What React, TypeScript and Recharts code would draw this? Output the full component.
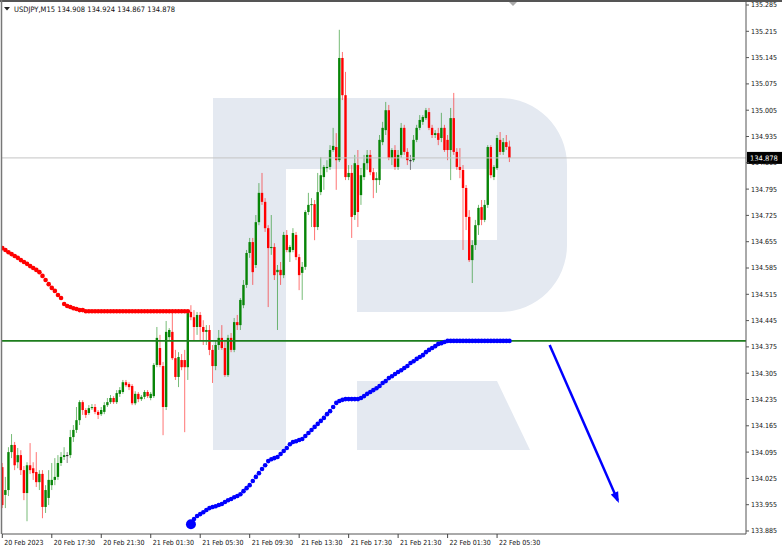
// USDJPY M15 candle chart with red/blue dotted indicators, a support level and a forecast arrow
import { ComposedChart, Bar, Line, XAxis, YAxis, ReferenceLine } from "recharts";

const symbol = "USDJPY,M15";

// OHLC per 15-minute bar, 20 Feb 13:30 -> 22 Feb 06:30
const opens = [
  134.055, 133.981, 133.994, 134.095, 134.114, 134.068, 134.087, 134.047, 133.986, 134.06,
  134.052, 134.042, 134.015, 134.037, 133.949, 133.973, 134.007, 134.021, 134.029, 134.066,
  134.082, 134.087, 134.087, 134.135, 134.154, 134.18, 134.228, 134.207, 134.199, 134.212,
  134.215, 134.202, 134.196, 134.202, 134.22, 134.228, 134.239, 134.228, 134.25, 134.255,
  134.281, 134.276, 134.271, 134.225, 134.25, 134.236, 134.242, 134.255, 134.239, 134.244,
  134.327, 134.372, 134.324, 134.215, 134.401, 134.415, 134.345, 134.295, 134.34, 134.34,
  134.321, 134.468, 134.454, 134.428, 134.46, 134.428, 134.415, 134.42, 134.367, 134.324,
  134.38, 134.399, 134.372, 134.3, 134.399, 134.367, 134.441, 134.433, 134.486, 134.54,
  134.625, 134.654, 134.593, 134.707, 134.785, 134.761, 134.691, 134.638, 134.641, 134.574,
  134.58, 134.566, 134.673, 134.627, 134.633, 134.673, 134.614, 134.572, 134.588, 134.734,
  134.753, 134.755, 134.694, 134.787, 134.827, 134.851, 134.854, 134.899, 134.907, 134.872,
  135.144, 135.045, 134.827, 134.838, 134.726, 134.859, 134.779, 134.827, 134.864, 134.886,
  134.84, 134.819, 134.819, 134.92, 134.952, 135.005, 134.878, 134.899, 134.854, 134.886,
  134.958, 134.894, 134.872, 134.872, 134.926, 134.958, 134.974, 134.984, 135.0, 134.958,
  134.939, 134.944, 134.931, 134.958, 134.926, 134.899, 134.984, 134.894, 134.854, 134.846,
  134.798, 134.721, 134.606, 134.646, 134.699, 134.747, 134.713, 134.753, 134.907, 134.827,
  134.851, 134.926, 134.894, 134.92, 134.908,
];
const highs = [
  134.066, 134.029, 134.108, 134.143, 134.122, 134.106, 134.1, 134.058, 134.068, 134.119,
  134.068, 134.095, 134.047, 134.047, 134.007, 134.047, 134.066, 134.079, 134.087, 134.095,
  134.108, 134.095, 134.154, 134.167, 134.215, 134.233, 134.233, 134.212, 134.22, 134.223,
  134.223, 134.207, 134.215, 134.228, 134.239, 134.247, 134.244, 134.26, 134.268, 134.287,
  134.287, 134.281, 134.276, 134.257, 134.255, 134.247, 134.26, 134.26, 134.255, 134.332,
  134.428, 134.407, 134.335, 134.444, 134.425, 134.465, 134.367, 134.361, 134.356, 134.367,
  134.473, 134.486, 134.473, 134.468, 134.468, 134.446, 134.433, 134.433, 134.38, 134.393,
  134.42, 134.433, 134.393, 134.407, 134.412, 134.452, 134.46, 134.505, 134.553, 134.633,
  134.665, 134.665, 134.726, 134.811, 134.838, 134.771, 134.699, 134.726, 134.651, 134.593,
  134.601, 134.681, 134.686, 134.646, 134.691, 134.681, 134.622, 134.601, 134.739, 134.785,
  134.771, 134.766, 134.838, 134.88, 134.859, 134.872, 134.912, 134.958, 134.944, 135.219,
  135.16, 135.107, 134.859, 134.859, 134.886, 134.899, 134.851, 134.886, 134.899, 134.899,
  134.851, 134.84, 134.939, 134.974, 135.027, 135.019, 134.904, 134.912, 134.899, 134.971,
  134.966, 134.904, 134.886, 134.939, 134.966, 134.992, 134.992, 135.011, 135.011, 134.966,
  134.952, 134.958, 134.998, 134.966, 134.939, 135.011, 135.051, 134.904, 134.904, 134.859,
  134.806, 134.739, 134.659, 134.713, 134.753, 134.766, 134.766, 134.912, 134.912, 134.859,
  134.939, 134.947, 134.931, 134.939, 134.924,
];
const lows = [
  133.946, 133.946, 133.978, 134.079, 134.047, 134.052, 134.034, 133.967, 133.911, 134.037,
  134.021, 134.002, 133.994, 133.919, 133.933, 133.954, 133.994, 134.007, 134.021, 134.058,
  134.074, 134.066, 134.079, 134.122, 134.146, 134.167, 134.194, 134.186, 134.194, 134.207,
  134.196, 134.183, 134.191, 134.196, 134.215, 134.223, 134.223, 134.223, 134.242, 134.25,
  134.268, 134.26, 134.22, 134.22, 134.228, 134.231, 134.236, 134.239, 134.233, 134.239,
  134.321, 134.321, 134.14, 134.207, 134.393, 134.34, 134.287, 134.268, 134.313, 134.148,
  134.287, 134.446, 134.393, 134.407, 134.393, 134.38, 134.38, 134.353, 134.279, 134.313,
  134.367, 134.367, 134.295, 134.295, 134.361, 134.361, 134.42, 134.42, 134.478, 134.532,
  134.612, 134.54, 134.585, 134.699, 134.753, 134.681, 134.481, 134.62, 134.553, 134.42,
  134.54, 134.558, 134.627, 134.601, 134.627, 134.606, 134.526, 134.5, 134.58, 134.726,
  134.694, 134.659, 134.686, 134.779, 134.793, 134.84, 134.846, 134.894, 134.793, 134.867,
  135.032, 134.819, 134.819, 134.665, 134.713, 134.694, 134.753, 134.819, 134.846, 134.832,
  134.771, 134.785, 134.806, 134.912, 134.939, 134.872, 134.859, 134.846, 134.846, 134.878,
  134.886, 134.859, 134.846, 134.867, 134.92, 134.952, 134.966, 134.979, 134.952, 134.931,
  134.931, 134.912, 134.92, 134.894, 134.872, 134.819, 134.886, 134.846, 134.824, 134.633,
  134.686, 134.601, 134.545, 134.633, 134.673, 134.699, 134.707, 134.745, 134.824, 134.819,
  134.846, 134.886, 134.886, 134.899, 134.867,
];
const closes = [
  133.954, 133.994, 134.095, 134.114, 134.06, 134.087, 134.047, 133.986, 134.06, 134.047,
  134.039, 134.015, 134.037, 133.949, 133.994, 134.021, 134.021, 134.029, 134.066, 134.082,
  134.087, 134.087, 134.135, 134.154, 134.18, 134.228, 134.207, 134.194, 134.212, 134.215,
  134.202, 134.194, 134.207, 134.22, 134.228, 134.239, 134.228, 134.252, 134.26, 134.281,
  134.273, 134.268, 134.225, 134.25, 134.236, 134.242, 134.255, 134.244, 134.25, 134.327,
  134.399, 134.327, 134.215, 134.415, 134.42, 134.345, 134.295, 134.348, 134.321, 134.321,
  134.468, 134.454, 134.428, 134.46, 134.428, 134.415, 134.42, 134.367, 134.324, 134.38,
  134.399, 134.372, 134.3, 134.399, 134.367, 134.441, 134.433, 134.5, 134.54, 134.625,
  134.654, 134.574, 134.707, 134.785, 134.761, 134.691, 134.638, 134.641, 134.566, 134.58,
  134.566, 134.673, 134.633, 134.641, 134.678, 134.614, 134.566, 134.588, 134.734, 134.753,
  134.755, 134.694, 134.787, 134.832, 134.854, 134.854, 134.899, 134.91, 134.872, 135.144,
  135.045, 134.827, 134.838, 134.721, 134.864, 134.734, 134.832, 134.864, 134.886, 134.84,
  134.819, 134.824, 134.926, 134.958, 135.005, 134.878, 134.899, 134.854, 134.886, 134.958,
  134.894, 134.872, 134.872, 134.926, 134.958, 134.979, 134.987, 135.005, 134.958, 134.939,
  134.944, 134.926, 134.958, 134.899, 134.899, 134.984, 134.894, 134.854, 134.846, 134.798,
  134.721, 134.606, 134.646, 134.699, 134.745, 134.713, 134.753, 134.907, 134.832, 134.854,
  134.931, 134.894, 134.92, 134.907, 134.878,
];

// red dotted indicator (bars 0..60)
const redDots = [
  134.638, 134.633, 134.627, 134.622, 134.617, 134.612, 134.606, 134.601, 134.596, 134.59,
  134.585, 134.58, 134.574, 134.564, 134.553, 134.542, 134.532, 134.524, 134.513, 134.505,
  134.489, 134.484, 134.481, 134.478, 134.476, 134.473, 134.473, 134.47, 134.47, 134.47,
  134.47, 134.47, 134.47, 134.47, 134.47, 134.47, 134.47, 134.47, 134.47, 134.47,
  134.47, 134.47, 134.47, 134.47, 134.47, 134.47, 134.47, 134.47, 134.47, 134.47,
  134.47, 134.47, 134.47, 134.47, 134.47, 134.47, 134.47, 134.47, 134.47, 134.47,
  134.47,
];

// blue dotted indicator (bars 61..164)
const BLUE_START = 61;
const blueDots = [
  133.903, 133.917, 133.925, 133.93, 133.935, 133.941, 133.946, 133.949, 133.951, 133.954,
  133.957, 133.962, 133.967, 133.97, 133.975, 133.978, 133.983, 133.991, 133.999, 134.007,
  134.018, 134.029, 134.039, 134.05, 134.06, 134.071, 134.076, 134.079, 134.082, 134.09,
  134.098, 134.106, 134.116, 134.122, 134.124, 134.127, 134.13, 134.138, 134.146, 134.154,
  134.162, 134.17, 134.178, 134.186, 134.196, 134.204, 134.215, 134.226, 134.231, 134.234,
  134.236, 134.236, 134.236, 134.236, 134.236, 134.239, 134.244, 134.25, 134.255, 134.26,
  134.265, 134.271, 134.279, 134.284, 134.292, 134.297, 134.303, 134.308, 134.313, 134.319,
  134.324, 134.332, 134.337, 134.343, 134.348, 134.353, 134.361, 134.367, 134.372, 134.377,
  134.383, 134.385, 134.388, 134.391, 134.391, 134.391, 134.391, 134.391, 134.391, 134.391,
  134.391, 134.391, 134.391, 134.391, 134.391, 134.391, 134.391, 134.391, 134.391, 134.391,
  134.391, 134.391, 134.391, 134.391,
];

const supportLevel = 134.391;
const lastPrice = 134.878;

// forecast arrow (bar index, price)
const arrowBars = [177, 199];
const arrowPrices = [134.38, 133.967];

const tickBars = [0, 16, 32, 48, 64, 80, 96, 112, 128, 144, 160];
const tickLabels = [
  "20 Feb 2023", "20 Feb 17:30", "20 Feb 21:30", "21 Feb 01:30", "21 Feb 05:30",
  "21 Feb 09:30", "21 Feb 13:30", "21 Feb 17:30", "21 Feb 21:30", "22 Feb 01:30", "22 Feb 05:30",
];
const priceTicks = [
  133.885, 133.955, 134.025, 134.095, 134.165, 134.235, 134.305, 134.375, 134.445, 134.515,
  134.585, 134.655, 134.725, 134.795, 134.865, 134.935, 135.005, 135.075, 135.145, 135.215, 135.285,
];

const FONT = "'DejaVu Sans Condensed', 'DejaVu Sans', sans-serif";
const UP = "#078507";
const DOWN = "#ff0000";

const candles = opens.map((o, i) => ({
  i,
  o,
  h: highs[i],
  l: lows[i],
  c: closes[i],
  range: [lows[i], highs[i]],
  red: i < redDots.length ? redDots[i] : null,
  blue: i >= BLUE_START ? blueDots[i - BLUE_START] : null,
}));
const chartData = [
  ...candles,
  ...arrowBars.map((b, k) => ({ i: b, arrow: arrowPrices[k] })),
];

const Candle = (props: any) => {
  const { x, y, width, height, payload } = props;
  if (!payload || payload.o == null) return <g />;
  const { o, h, l, c } = payload;
  const top = Math.min(y, y + height);
  const span = Math.abs(height);
  const k = span / (h - l || 1);
  const cx = x + width / 2;
  const yo = top + (h - o) * k;
  const yc = top + (h - c) * k;
  const color = c > o ? UP : c < o ? DOWN : "#222";
  return (
    <g>
      <line x1={cx} x2={cx} y1={top} y2={top + span} stroke={color} strokeOpacity={0.55} strokeWidth={1} />
      <rect x={cx - 1.2} width={2.4} y={Math.min(yo, yc)} height={Math.max(Math.abs(yo - yc), 1)} fill={color} />
    </g>
  );
};

const redDot = (p: any) => {
  if (p.cy == null || isNaN(p.cy)) return <g key={`r${p.index}`} />;
  return <circle key={`r${p.index}`} cx={p.cx} cy={p.cy} r={2.3} fill={DOWN} />;
};

const blueDot = (p: any) => {
  if (p.cy == null || isNaN(p.cy)) return <g key={`b${p.index}`} />;
  const first = p.payload && p.payload.i === BLUE_START;
  return <circle key={`b${p.index}`} cx={p.cx} cy={p.cy} r={first ? 5 : 2.3} fill="#0000ff" />;
};

// arrowhead on the last point, pointing away from the previous point
let prevArrowPt: { x: number; y: number } | null = null;
const arrowDot = (p: any) => {
  if (p.cy == null || isNaN(p.cy)) return <g key={`a${p.index}`} />;
  const isFirst = p.payload && p.payload.i === arrowBars[0];
  if (isFirst || !prevArrowPt) {
    prevArrowPt = { x: p.cx, y: p.cy };
    return <g key={`a${p.index}`} />;
  }
  const dx = p.cx - prevArrowPt.x;
  const dy = p.cy - prevArrowPt.y;
  const len = Math.hypot(dx, dy) || 1;
  const ux = dx / len;
  const uy = dy / len;
  const tipX = p.cx + ux * 3;
  const tipY = p.cy + uy * 3;
  const bx = p.cx - ux * 8;
  const by = p.cy - uy * 8;
  const pts = `${tipX},${tipY} ${bx - uy * 4},${by + ux * 4} ${bx + uy * 4},${by - ux * 4}`;
  return <polygon key={`a${p.index}`} points={pts} fill="#0000ff" />;
};

const DateTick = (props: any) => {
  const { x, y, payload } = props;
  const idx = tickBars.indexOf(payload.value);
  return (
    <text x={x + 2} y={y + 5} fontSize={7} fontFamily={FONT} fill="#111" textAnchor="start">
      {idx >= 0 ? tickLabels[idx] : ""}
    </text>
  );
};

const PriceBox = (props: any) => {
  const vb = props.viewBox;
  if (!vb) return null;
  const x = vb.x + vb.width;
  return (
    <g>
      <rect x={x + 1} y={vb.y - 6} width={35} height={12} fill="#000" />
      <text x={x + 4} y={vb.y + 3} fontSize={7.5} fontFamily={FONT} fill="#fff">
        {lastPrice.toFixed(3)}
      </text>
    </g>
  );
};

const last = opens.length - 1;
const title = `${symbol}  ${opens[last].toFixed(3)} ${highs[last].toFixed(3)} ${lows[last].toFixed(3)} ${closes[last].toFixed(3)}`;

export default function App() {
  return (
    <div style={{ position: "absolute", left: 0, top: 0, width: 782, height: 550, background: "#fff" }}>
      {/* watermark logo behind the chart */}
      <svg width={782} height={550} style={{ position: "absolute", left: 0, top: 0 }}>
        <path
          d="M213,98 H500 A67,67 0 0 1 567,165 V245 A67,67 0 0 1 500,312 H357 V240 H497 V169 H286 V450 H213 Z"
          fill="#e4e9f1"
        />
        <path d="M357,381 H497 L530,450 H357 Z" fill="#e4e9f1" />
      </svg>

      <div style={{ position: "absolute", left: 0, top: 0 }}>
        <ComposedChart width={782} height={550} data={chartData} margin={{ top: 2, right: 0, bottom: 0, left: 2 }}>
          <XAxis
            dataKey="i"
            type="number"
            domain={[-0.1, 240.5]}
            allowDataOverflow
            ticks={tickBars}
            interval={0}
            height={16}
            tickSize={4}
            tick={<DateTick />}
            tickLine={{ stroke: "#444" }}
            axisLine={{ stroke: "#555" }}
          />
          <YAxis
            orientation="right"
            width={36}
            domain={[133.877, 135.293]}
            allowDataOverflow
            ticks={priceTicks}
            interval={0}
            tickSize={3}
            tickFormatter={(v: number) => v.toFixed(3)}
            tick={{ fontSize: 7, fill: "#111", fontFamily: FONT }}
            tickLine={{ stroke: "#555" }}
            axisLine={{ stroke: "#555" }}
          />
          <ReferenceLine y={lastPrice} stroke="#c4c4c4" strokeWidth={1} label={<PriceBox />} />
          <ReferenceLine y={supportLevel} stroke="#1d7d1d" strokeWidth={1.6} />
          <Bar dataKey="range" barSize={3} shape={<Candle />} isAnimationActive={false} />
          <Line dataKey="red" stroke="none" dot={redDot} activeDot={false} isAnimationActive={false} />
          <Line dataKey="blue" stroke="none" dot={blueDot} activeDot={false} isAnimationActive={false} />
          <Line
            dataKey="arrow"
            stroke="#0000ff"
            strokeWidth={2.5}
            connectNulls
            dot={arrowDot}
            activeDot={false}
            isAnimationActive={false}
          />
        </ComposedChart>
      </div>

      {/* frame and header */}
      <svg width={782} height={550} style={{ position: "absolute", left: 0, top: 0, pointerEvents: "none" }}>
        <line x1={0} x2={782} y1={1} y2={1} stroke="#555" strokeWidth={2} />
        <line x1={1.5} x2={1.5} y1={0} y2={534} stroke="#777" strokeWidth={1.5} />
        <path d="M4,7 L10,7 L7,10.5 Z" fill="#222" />
        <text x={14} y={12} fontSize={7.5} fontFamily={FONT} fill="#111">
          {title}
        </text>
        <path d="M509,2 L517,2 L513,6 Z" fill="#aaa" />
      </svg>
    </div>
  );
}
